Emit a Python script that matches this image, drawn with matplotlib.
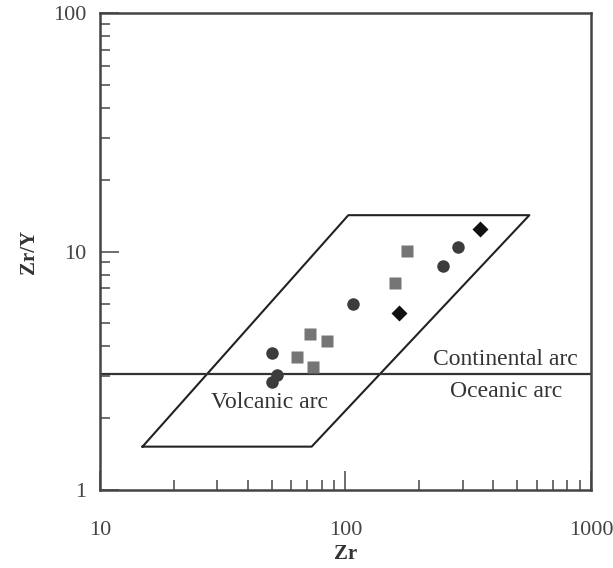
import matplotlib
matplotlib.use("Agg")
import matplotlib.pyplot as plt
from matplotlib.ticker import LogLocator, NullFormatter, FixedLocator

plt.rcParams['font.family'] = ['Liberation Serif', 'DejaVu Serif']

# data
circle_zr = [50.1, 52.4, 50.1, 107.6, 250, 288]
circle_ratio = [3.77, 3.03, 2.85, 6.02, 8.72, 10.4]

square_zr = [63.6, 71.7, 74, 83.8, 159, 177.6]
square_ratio = [3.62, 4.51, 3.27, 4.21, 7.36, 10.07]

diamond_zr = [165.6, 353]
diamond_ratio = [5.54, 12.4]

# volcanic arc field and arc boundary
field_zr = [14.9, 72.8, 561, 102.7, 14.9]
field_ratio = [1.52, 1.52, 14.2, 14.2, 1.52]
boundary = 3.06

fig = plt.figure(figsize=(6.13, 5.68), dpi=100)
ax = fig.add_axes([0.1631, 0.1373, 0.801, 0.8398])

ax.set_xscale('log')
ax.set_yscale('log')
ax.set_xlim(10, 1000)
ax.set_ylim(1, 100)

ax.plot(field_zr, field_ratio, color='#222222', lw=1.5)
ax.axhline(boundary, color='#333333', lw=1.6)

ax.plot(circle_zr, circle_ratio, 'o', ms=9, color='#3c3c3c', mec='none')
ax.plot(square_zr, square_ratio, 's', ms=8.5, color='#757575', mec='none')
ax.plot(diamond_zr, diamond_ratio, 'D', ms=8, color='#111111', mec='none')

ax.text(446, 3.52, 'Continental arc', fontsize=17, color='#333333', ha='center', va='center')
ax.text(450, 2.6, 'Oceanic arc', fontsize=17, color='#333333', ha='center', va='center')
ax.text(49, 2.33, 'Volcanic arc', fontsize=17, color='#333333', ha='center', va='center')

for s in ax.spines.values():
    s.set_linewidth(1.8)
    s.set_color('#444444')

ax.xaxis.set_major_locator(FixedLocator([10, 100, 1000]))
ax.yaxis.set_major_locator(FixedLocator([1, 10, 100]))
ax.xaxis.set_minor_locator(LogLocator(base=10, subs=range(2, 10)))
ax.yaxis.set_minor_locator(LogLocator(base=10, subs=range(2, 10)))
ax.xaxis.set_minor_formatter(NullFormatter())
ax.yaxis.set_minor_formatter(NullFormatter())
ax.set_xticklabels(['10', '100', '1000'])
ax.set_yticklabels(['1', '10', '100'])

ax.tick_params(which='major', direction='in', length=14, width=1.2, color='#555555',
               labelsize=16, labelcolor='#444444')
ax.tick_params(which='minor', direction='in', length=7, width=1.2, color='#555555')
ax.tick_params(axis='x', which='major', pad=22)
ax.tick_params(axis='y', which='major', pad=10)

ax.set_xlabel('Zr', fontsize=15, fontweight='bold', color='#333333', labelpad=3)
ax.set_ylabel('Zr/Y', fontsize=15, fontweight='bold', color='#333333', labelpad=10)

fig.savefig('out.png', dpi=100)
